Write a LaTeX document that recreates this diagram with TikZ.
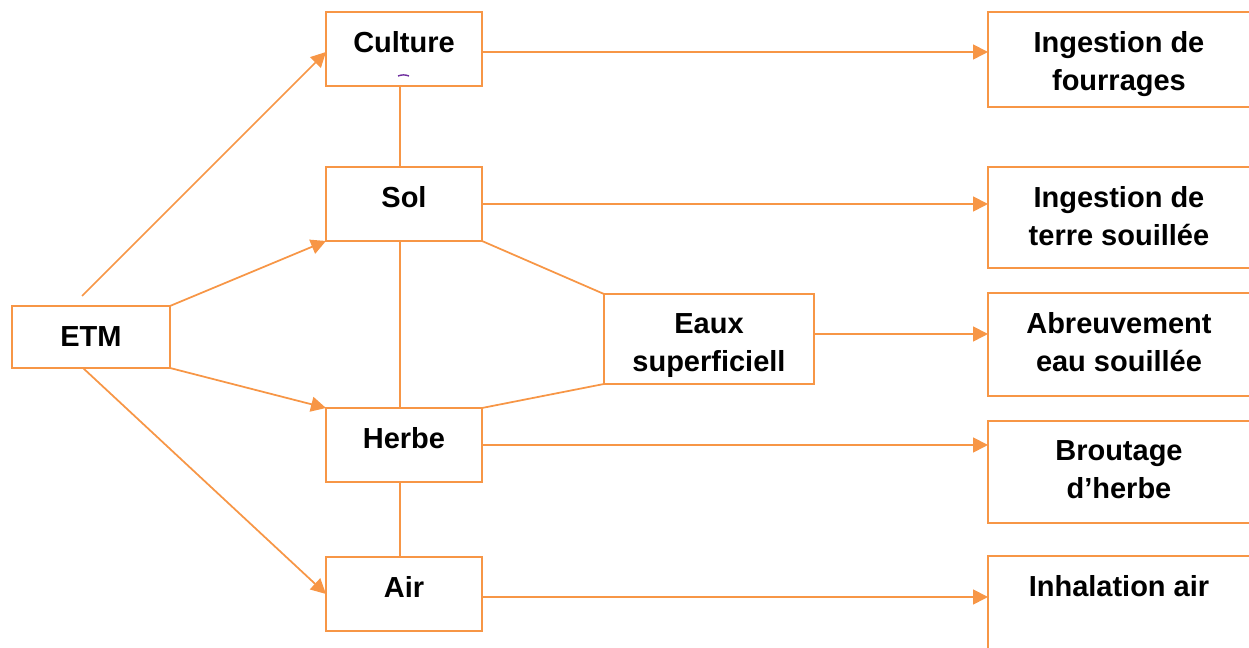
\documentclass[tikz,border=0pt]{standalone}
\usepackage{fontspec}
\setmainfont{Liberation Sans}
\usetikzlibrary{arrows.meta}
\definecolor{etmorange}{RGB}{247,150,70}
\definecolor{clipviolet}{RGB}{112,48,160}
\tikzstyle{box} = [draw=etmorange, line width=0.035cm, anchor=north west, inner sep=0pt, outer sep=0pt]
\tikzstyle{txt} = [font=\fontsize{16.5}{21.6}\selectfont\bfseries, align=center, inner sep=0pt]
\tikzstyle{head} = [txt, anchor=north, yshift=-0.38cm]
\tikzstyle{link} = [draw=etmorange, line width=0.035cm]
\tikzstyle{flow} = [link, -{Triangle[length=0.3cm, width=0.3cm]}]

\begin{document}
\begin{tikzpicture}[x=0.02cm, y=-0.02cm]
\useasboundingbox (0,0) rectangle (1249,648);
%bron
\node[box, txt, minimum width=3.16cm, minimum height=1.24cm] (etm) at (12,306) {ETM};
\coordinate (etm top) at (82,296);
\coordinate (etm bottom) at (83,368);
%begin milieux
\node[box, minimum width=3.12cm, minimum height=1.48cm, label={[head]north:Culture}] (culture) at (326,12) {};
\node[box, minimum width=3.12cm, minimum height=1.48cm, label={[head]north:Sol}] (sol) at (326,167) {};
\node[box, minimum width=4.2cm, minimum height=1.8cm, label={[head]north:{Eaux\\superficiell}}] (eaux) at (604,294) {};
\node[box, minimum width=3.12cm, minimum height=1.48cm, label={[head]north:Herbe}] (herbe) at (326,408) {};
\node[box, minimum width=3.12cm, minimum height=1.48cm, label={[head]north:Air}] (air) at (326,557) {};
\draw[clipviolet, line width=0.8pt] (398,76) to[bend left=20] (409,76);
%end milieux
%begin expositions
\node[box, minimum width=5.24cm, minimum height=1.9cm, label={[head]north:{Ingestion de\\fourrages}}] (fourrages) at (988,12) {};
\node[box, minimum width=5.24cm, minimum height=2.02cm, label={[head]north:{Ingestion de\\terre souillée}}] (terre) at (988,167) {};
\node[box, minimum width=5.24cm, minimum height=2.06cm, label={[head]north:{Abreuvement\\eau souillée}}] (abreuvement) at (988,293) {};
\node[box, minimum width=5.24cm, minimum height=2.04cm, label={[head]north:{Broutage\\d’herbe}}] (broutage) at (988,421) {};
\node[box, minimum width=5.24cm, minimum height=2.2cm, label={[head]north:{Inhalation air}}] (inhalation) at (988,556) {};
%end expositions
%begin transferts ETM
\draw[flow] (etm top) -- ([shift={(0,3)}]culture.west);
\draw[flow] (etm.north east) -- (sol.south west);
\draw[flow] (etm.south east) -- (herbe.north west);
\draw[flow] (etm bottom) -- (air.west);
%end transferts ETM
%begin liens milieux
\draw[link] ([xshift=-0.08cm]culture.south) -- ([xshift=-0.08cm]sol.north);
\draw[link] ([xshift=-0.08cm]sol.south) -- ([xshift=-0.08cm]herbe.north);
\draw[link] ([xshift=-0.08cm]herbe.south) -- ([xshift=-0.08cm]air.north);
\draw[link] (sol.south east) -- (eaux.north west);
\draw[link] (herbe.north east) -- (eaux.south west);
%end liens milieux
%begin voies
\draw[flow] ([shift={(0,3)}]culture.east) -- ([shift={(0,3)}]culture.east -| fourrages.west);
\draw[flow] (sol.east) -- (sol.east -| terre.west);
\draw[flow] ([shift={(0,-5)}]eaux.east) -- ([shift={(0,-5)}]eaux.east -| abreuvement.west);
\draw[flow] (herbe.east) -- (herbe.east -| broutage.west);
\draw[flow] ([shift={(0,3)}]air.east) -- ([shift={(0,3)}]air.east -| inhalation.west);
%end voies
\end{tikzpicture}
\end{document}
